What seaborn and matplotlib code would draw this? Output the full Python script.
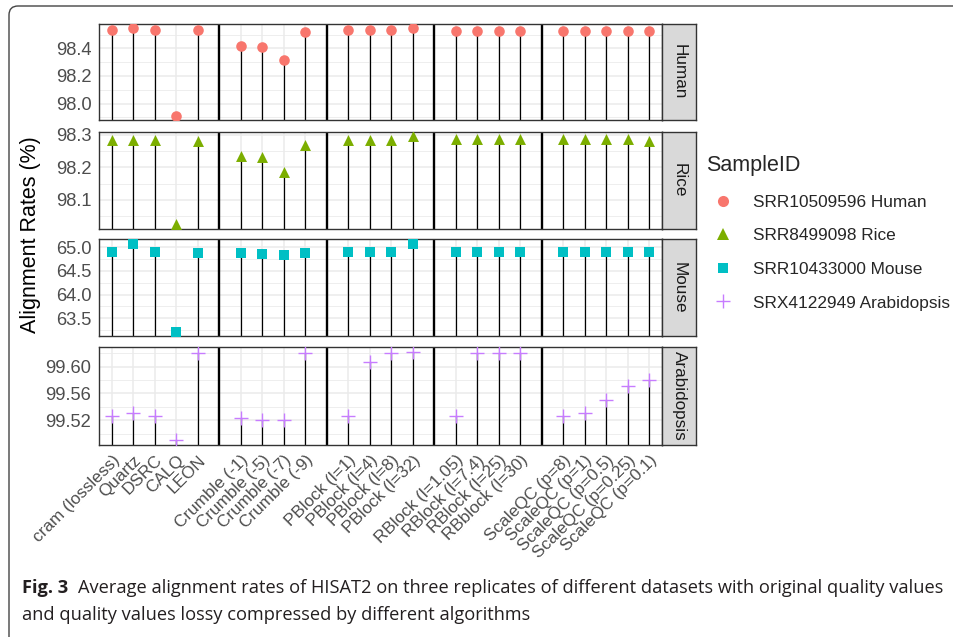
import matplotlib
matplotlib.use("Agg")
import matplotlib.pyplot as plt
import seaborn as sns
import pandas as pd
import numpy as np
from matplotlib.ticker import MultipleLocator, FormatStrFormatter, FixedLocator
from matplotlib.patches import FancyBboxPatch
from matplotlib.lines import Line2D
from matplotlib.transforms import IdentityTransform

# ---------------- data ----------------
classic = ["cram (lossless)", "Quartz", "DSRC", "CALQ", "LEON"]
crumble = ["Crumble (-1)", "Crumble (-5)", "Crumble (-7)", "Crumble (-9)"]
pblock = ["PBlock (l=1)", "PBlock (l=4)", "PBlock (l=8)", "PBlock (l=32)"]
rblock = ["RBlock (l=1.05)", "RBlock (l=7.4)", "RBlock (l=25)", "RBblock (l=30)"]
scaleqc = ["ScaleQC (p=8)", "ScaleQC (p=1)", "ScaleQC (p=0.5)", "ScaleQC (p=0.25)", "ScaleQC (p=0.1)"]
method_groups = [classic, crumble, pblock, rblock, scaleqc]

species = ["Human", "Rice", "Mouse", "Arabidopsis"]
sample_ids = ["SRR10509596 Human", "SRR8499098 Rice", "SRR10433000 Mouse", "SRX4122949 Arabidopsis"]

human = [98.534, 98.546, 98.534, 97.912, 98.534,
         98.421, 98.412, 98.314, 98.519,
         98.534, 98.534, 98.536, 98.546,
         98.530, 98.530, 98.530, 98.530,
         98.530, 98.530, 98.530, 98.530, 98.530]
rice = [98.285, 98.285, 98.285, 98.025, 98.282,
        98.234, 98.231, 98.186, 98.268,
        98.285, 98.285, 98.283, 98.295,
        98.287, 98.287, 98.287, 98.287,
        98.287, 98.287, 98.287, 98.287, 98.281]
mouse = [64.89, 65.07, 64.89, 63.22, 64.876,
         64.87, 64.85, 64.83, 64.87,
         64.89, 64.89, 64.89, 65.07,
         64.89, 64.89, 64.89, 64.89,
         64.89, 64.89, 64.89, 64.89, 64.89]
arabidopsis = [99.527, 99.531, 99.527, 99.490, 99.620,
               99.5235, 99.520, 99.520, 99.620,
               99.527, 99.6065, 99.620, 99.6225,
               99.527, 99.620, 99.620, 99.620,
               99.527, 99.531, 99.550, 99.571, 99.5805]
series = [human, rice, mouse, arabidopsis]

# ---------------- styling ----------------
colors = ["#F8766D", "#7CAE00", "#00BFC4", "#C77CFF"]
markers = ["o", "^", "s", "+"]
msizes = [58, 62, 46, 115]
major_steps = [0.2, 0.1, 0.5, 0.04]
minor_steps = [0.1, 0.05, 0.25, 0.02]
fmts = ["%.1f", "%.1f", "%.1f", "%.2f"]

# category positions on a single discrete axis, with blank slots between groups
x_order = []
sep_positions = []
for gi, g in enumerate(method_groups):
    if gi > 0:
        x_order.append("")
        sep_positions.append(len(x_order))
    x_order.extend(g)
pos_of = {lab: i + 1 for i, lab in enumerate(x_order) if lab}
methods = [m for g in method_groups for m in g]

W, H = 954, 637
fig = plt.figure(figsize=(W / 100, H / 100), dpi=100)
sns.set_style("white")
plt.rcParams["font.family"] = ["Liberation Sans", "DejaVu Sans"]

def fx(px):
    return px / W

def fy(py):
    return 1 - py / H

panel_left, panel_right = 99, 662
strip_w = 34
rows_px = [(24, 120), (132, 228.7), (239.3, 336), (347.3, 444.7)]

for r, (sp, vals) in enumerate(zip(species, series)):
    top, bot = rows_px[r]
    ax = fig.add_axes([fx(panel_left), fy(bot), fx(panel_right - panel_left), (bot - top) / H])
    df = pd.DataFrame({"method": methods, "rate": vals})
    df["pos"] = df["method"].map(pos_of)
    lo, hi = min(vals), max(vals)
    pad = 0.05 * (hi - lo)
    ylo, yhi = lo - pad, hi + pad
    ax.set_ylim(ylo, yhi)
    ax.set_xlim(0.4, len(x_order) + 0.6)

    ax.vlines(df["pos"], ylo, df["rate"], color="black", lw=0.9, zorder=2)
    for s in sep_positions:
        ax.axvline(s, color="black", lw=1.7, zorder=2.5)
    if markers[r] == "+":
        sns.scatterplot(data=df, x="pos", y="rate", ax=ax, color=colors[r], marker="+",
                        s=msizes[r], linewidth=1.0, legend=False, zorder=3)
    else:
        sns.scatterplot(data=df, x="pos", y="rate", ax=ax, color=colors[r], marker=markers[r],
                        s=msizes[r], linewidth=0, legend=False, zorder=3)
    ax.set_ylim(ylo, yhi)
    ax.set_xlim(0.4, len(x_order) + 0.6)

    ax.yaxis.set_major_locator(MultipleLocator(major_steps[r]))
    ax.yaxis.set_minor_locator(MultipleLocator(minor_steps[r]))
    ax.yaxis.set_major_formatter(FormatStrFormatter(fmts[r]))
    ax.xaxis.set_major_locator(FixedLocator(list(range(1, len(x_order) + 1))))
    ax.set_axisbelow(True)
    ax.grid(which="major", color="#EBEBEB", lw=1.1)
    ax.grid(which="minor", axis="y", color="#EBEBEB", lw=0.6)
    ax.tick_params(axis="y", which="major", length=3.5, width=0.9, color="#333333",
                   labelsize=13.2, labelcolor="#4D4D4D", pad=2)
    ax.tick_params(axis="y", which="minor", length=0)
    for sp_ in ax.spines.values():
        sp_.set_color("#333333")
        sp_.set_linewidth(1.0)
    ax.set_xlabel("")
    ax.set_ylabel("")
    if r == len(species) - 1:
        ax.set_xticks([pos_of[m] for m in methods] + [sep_positions[0]])
        ax.set_xticklabels(methods + [""], rotation=45, ha="right",
                           rotation_mode="anchor", fontsize=12.3, color="#4D4D4D")
        ax.tick_params(axis="x", length=3.5, width=0.9, color="#333333", pad=2)
    else:
        ax.tick_params(axis="x", length=0, labelbottom=False)

    sax = fig.add_axes([fx(panel_right), fy(bot), fx(strip_w), (bot - top) / H])
    sax.set_facecolor("#D9D9D9")
    sax.set_xticks([])
    sax.set_yticks([])
    for sp_ in sax.spines.values():
        sp_.set_color("#333333")
        sp_.set_linewidth(1.0)
    sax.text(0.5, 0.5, sp, rotation=-90, ha="center", va="center",
             fontsize=12.3, color="#1A1A1A", transform=sax.transAxes)

fig.text(fx(31), fy((24 + 444.7) / 2), "Alignment Rates (%)", rotation=90,
         ha="center", va="center", fontsize=15.5, color="black")

handles = []
for c, m in zip(colors, markers):
    if m == "+":
        handles.append(Line2D([], [], ls="", marker=m, color=c, markersize=10, mew=1.0))
    else:
        handles.append(Line2D([], [], ls="", marker=m, color=c, markersize=8 if m != "s" else 7, mew=0))
leg = fig.legend(handles, sample_ids, title="SampleID", loc="upper left",
                 bbox_to_anchor=(fx(699), fy(148)), frameon=False, fontsize=12.4,
                 title_fontsize=15.5, labelspacing=1.08, handletextpad=0.72,
                 borderaxespad=0, alignment="left")

# figure frame (top & left edges of the journal box)
frame = FancyBboxPatch((9, -30), 1200, H - 6 + 30, boxstyle="round,pad=0,rounding_size=9",
                       transform=IdentityTransform(), fill=False, ec="#444444", lw=1.0)
fig.add_artist(frame)

# caption
cap_font = ["Open Sans", "DejaVu Sans"]
renderer = fig.canvas.get_renderer()
fs = 14
t_bold = fig.text(fx(22), fy(593), "Fig. 3", fontsize=fs, fontweight="bold",
                  family=cap_font, color="#231F20", va="baseline")
rest1 = "Average alignment rates of HISAT2 on three replicates of different datasets with original quality values"
rest2 = "and quality values lossy compressed by different algorithms"
t1 = fig.text(0, fy(593), rest1, fontsize=fs, family=cap_font, color="#231F20", va="baseline")
bb = t_bold.get_window_extent(renderer)
gap = 10
t1.set_x(fx(bb.x1 + gap))
bb1 = t1.get_window_extent(renderer)
total = bb1.x1 - bb.x0
scale = (947 - 22) / total
fs2 = fs * scale
t_bold.set_fontsize(fs2)
t1.set_fontsize(fs2)
bb = t_bold.get_window_extent(renderer)
t1.set_x(fx(bb.x1 + gap * scale))
fig.text(fx(22), fy(620), rest2, fontsize=fs2, family=cap_font, color="#231F20", va="baseline")

fig.savefig("out.png", dpi=100)
